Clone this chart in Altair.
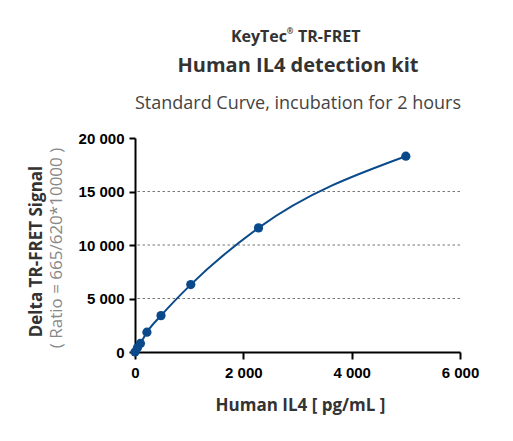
import altair as alt
import pandas as pd

# Data
conc = [0, 45, 100, 220, 480, 1030, 2280, 5000]
signal = [0, 390, 800, 1850, 3400, 6300, 11600, 18300]
grid_vals = [5000, 10000, 15000]
x_ticks = [0, 2000, 4000, 6000]
y_ticks = [0, 5000, 10000, 15000, 20000]

header1 = "KeyTec"
header1_mark = "®"
header1b = "TR-FRET"
header2 = "Human IL4 detection kit"
header3 = "Standard Curve, incubation for 2 hours"
x_title = "Human IL4 [ pg/mL ]"
y_title1 = "Delta TR-FRET Signal"
y_title2 = "( Ratio = 665/620*10000 )"

df = pd.DataFrame({"conc": conc, "signal": signal})
grid_df = pd.DataFrame({"g": grid_vals})

BLUE = "#0b4a8a"
label_expr = "replace(format(datum.value, ','), ',', ' ')"

xscale = alt.Scale(domain=[0, 6000], nice=False)
yscale = alt.Scale(domain=[0, 20000], nice=False)

xaxis = alt.Axis(
    values=x_ticks, labelExpr=label_expr, grid=False, labelFlush=False,
    labelFont="Liberation Sans", labelFontWeight="bold", labelFontSize=15,
    labelColor="#000", labelPadding=6,
    domainColor="#000", domainWidth=2, tickColor="#000", tickWidth=2, tickSize=7,
    title=x_title, titleFont="Open Sans", titleFontWeight="bold", titleFontSize=17,
    titleColor="#333", titleBaseline="alphabetic", titleY=58, titleX=165,
)
yaxis = alt.Axis(
    values=y_ticks, labelExpr=label_expr, grid=False, labelFlush=False,
    labelFont="Liberation Sans", labelFontWeight="bold", labelFontSize=15,
    labelColor="#000", labelPadding=5,
    domainColor="#000", domainWidth=2, tickColor="#000", tickWidth=2, tickSize=6,
    title=y_title1, titleFont="Open Sans", titleFontWeight="bold", titleFontSize=17,
    titleColor="#333", titleAngle=270, titleBaseline="middle", titleX=-99, titleY=113,
)

grid = alt.Chart(grid_df).mark_rule(color="#777", strokeDash=[2.5, 2.5], strokeWidth=1).encode(
    y=alt.Y("g:Q", scale=yscale, axis=yaxis),
)

line = alt.Chart(df).mark_line(color=BLUE, strokeWidth=2, interpolate="monotone").encode(
    x=alt.X("conc:Q", scale=xscale, axis=xaxis),
    y=alt.Y("signal:Q", scale=yscale, axis=yaxis),
)
pts = alt.Chart(df).mark_circle(color=BLUE, opacity=1, size=85).encode(
    x=alt.X("conc:Q", scale=xscale, axis=xaxis),
    y=alt.Y("signal:Q", scale=yscale, axis=yaxis),
)

def txt(s, x, y, size, weight, color, angle=0, baseline="alphabetic", align="center"):
    kw = dict(font="Open Sans", fontSize=size, fontWeight=weight, color=color,
              align=align, baseline=baseline)
    if angle:
        kw["angle"] = angle
    return alt.Chart(pd.DataFrame({"t": [s]})).mark_text(**kw).encode(
        text="t:N", x=alt.value(x), y=alt.value(y)
    )

h1a = txt(header1, 152, -96, 16, "bold", "#333", align="right")
h1m = txt(header1_mark, 155, -104, 8, "bold", "#333")
h1b = txt(header1b, 163, -96, 16, "bold", "#333", align="left")
h2 = txt(header2, 163, -66, 20, "bold", "#333")
h3 = txt(header3, 163, -29, 18, "normal", "#444")
yt2 = txt(y_title2, -78, 110, 17, "normal", "#888", angle=270, baseline="middle")

chart = alt.layer(grid, line, pts, h1a, h1m, h1b, h2, h3, yt2).properties(
    width=325, height=214,
    autosize=alt.AutoSizeParams(type="none"),
    padding={"left": 127, "top": 130, "right": 45, "bottom": 85},
    background="white",
).configure_view(strokeWidth=0)

chart.save("out.html", embed_options={"renderer": "svg", "actions": False})
